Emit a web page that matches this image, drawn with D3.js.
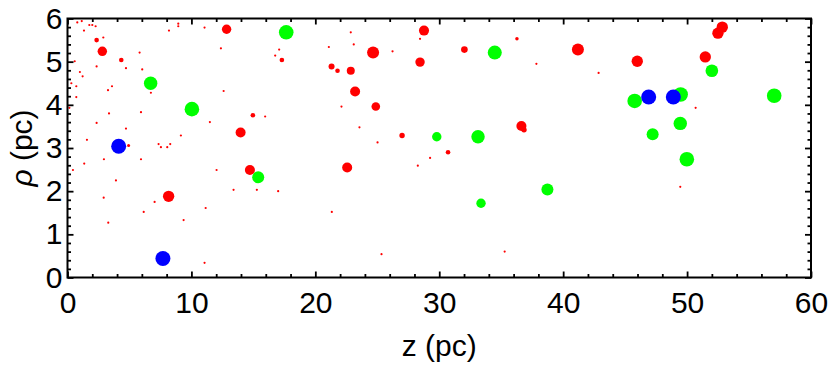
<!DOCTYPE html>
<html>
<head>
<meta charset="utf-8">
<script src="https://cdn.jsdelivr.net/npm/d3@7"></script>
<style>
  body { margin: 0; background: #fff; }
  svg { display: block; }
  .tick text { font-family: "Liberation Sans", Arial, sans-serif; }
</style>
</head>
<body>
<div id="chart"></div>
<script>
// big red points: z (pc), rho (pc), mass (drawn as area)
var redZ    = [12.84, 2.35, 2.81, 4.34, 14.96, 13.97, 4.93, 28.77, 24.66, 32.03, 28.45, 17.30, 21.31, 21.79, 22.86, 23.21, 24.88, 36.63, 36.84, 27.0, 52.84, 52.49, 41.19, 45.98, 51.47, 14.72, 8.16, 22.57, 30.71, 36.27];
var redRho  = [5.75, 5.50, 5.24, 5.04, 3.76, 3.36, 3.06, 5.72, 5.21, 5.28, 4.99, 5.04, 4.89, 4.79, 4.79, 4.31, 3.96, 3.51, 3.42, 3.29, 5.80, 5.66, 5.28, 5.01, 5.11, 2.49, 1.88, 2.55, 2.90, 5.53];
var redMass = [22, 5.3, 22, 5.3, 5.3, 25, 2.3, 25, 36, 11, 22, 5.3, 9, 5.3, 16, 25, 18.5, 25, 7.3, 7.3, 32, 32, 36, 32, 32, 25, 32, 25, 5.3, 3];

// tiny red points
var dustZ   = [0.79, 1.15, 1.76, 2.0, 2.27, 1.33, 2.89, 5.82, 8.19, 8.94, 8.94, 11.06, 12.38, 0.58, 2.35, 4.72, 6.03, 1.0, 1.22, 0.31, 0.71, 3.59, 3.27, 6.73, 12.6, 0.71, 0.15, 3.35, 5.93, 11.49, 15.95, 2.35, 4.72, 1.57, 9.15, 7.35, 7.54, 8.05, 8.29,
               22.86, 28.45, 17.08, 16.76, 21.09, 23.10, 26.23, 37.84, 22.11, 23.56, 25.02, 42.86, 50.69,
               1.35, 2.94, 5.93, 0.44, 3.91, 2.92, 7.03, 6.15, 11.15, 3.29, 9.37, 12.03, 13.40, 15.28, 17.0, 11.06,
               29.26, 28.27, 21.33, 25.34, 35.28, 49.45];
var dustRho = [5.91, 5.94, 5.85, 5.85, 5.82, 5.72, 5.56, 5.21, 5.72, 5.88, 5.82, 5.79, 5.31, 5.01, 4.89, 4.85, 4.82, 4.76, 4.66, 4.50, 4.43, 4.43, 4.34, 4.28, 4.32, 4.18, 3.93, 3.80, 3.83, 3.60, 3.73, 3.58, 3.45, 3.19, 3.29, 3.09, 3.02, 3.02, 3.09,
               5.68, 5.53, 5.28, 5.14, 5.34, 5.40, 5.24, 4.95, 3.96, 3.48, 3.13, 4.74, 3.93,
               2.64, 2.74, 2.74, 2.49, 2.25, 1.85, 1.75, 1.52, 1.61, 1.27, 1.33, 2.49, 2.03, 2.03, 2.0, 0.34,
               2.77, 2.59, 1.52, 0.54, 0.60, 2.10];
var dustMass = 1.2;

// green points
var greenZ    = [6.71, 10.04, 17.65, 34.48, 29.8, 33.13, 52.0, 45.77, 49.48, 57.03, 49.45, 47.22, 15.39, 33.37, 49.98, 38.73];
var greenRho  = [4.50, 3.90, 5.68, 5.21, 3.26, 3.26, 4.79, 4.09, 4.24, 4.21, 3.57, 3.32, 2.32, 1.72, 2.74, 2.04];
var greenMass = [45, 53, 53, 49, 22, 45, 40, 53, 53, 53, 45, 36, 36, 22, 53, 36];

// blue points
var blueZ    = [4.13, 46.9, 48.89, 7.70];
var blueRho  = [3.04, 4.18, 4.18, 0.44];
var blueMass = [56, 56, 56, 56];

var xTicks = [0, 10, 20, 30, 40, 50, 60];
var yTicks = [0, 1, 2, 3, 4, 5, 6];

var margin = { top: 18.5, right: 19, bottom: 89.5, left: 67.5 },
    width = 830 - margin.left - margin.right,
    height = 367 - margin.top - margin.bottom;

var svg = d3.select("#chart")
  .append("svg")
    .attr("width", 830)
    .attr("height", 367)
  .append("g")
    .attr("transform", "translate(" + margin.left + "," + margin.top + ")");

var x = d3.scaleLinear().domain([0, 60]).range([0, width]);
var y = d3.scaleLinear().domain([0, 6]).range([height, 0]);
var r = d3.scaleSqrt().domain([0, 56]).range([0, 7.5]);

function zip(zs, rhos, mass) {
  return zs.map(function(d, i) {
    return { z: d, rho: rhos[i], m: Array.isArray(mass) ? mass[i] : mass };
  });
}

var layers = [
  { data: zip(dustZ, dustRho, dustMass), color: "#ff0000" },
  { data: zip(redZ, redRho, redMass), color: "#ff0000" },
  { data: zip(greenZ, greenRho, greenMass), color: "#00ff00" },
  { data: zip(blueZ, blueRho, blueMass), color: "#0000ff" }
];

layers.forEach(function(layer) {
  svg.append("g")
    .selectAll("circle")
    .data(layer.data)
    .enter()
    .append("circle")
    .attr("cx", function(d) { return x(d.z); })
    .attr("cy", function(d) { return y(d.rho); })
    .attr("r", function(d) { return r(d.m); })
    .attr("fill", layer.color);
});

// minor ticks
var xMinor = d3.range(0, 61, 2).filter(function(v) { return v % 10 !== 0; });
var yMinor = d3.range(0, 31).map(function(v) { return v / 5; }).filter(function(v, i) { return i % 5 !== 0; });

function styleAxis(g) {
  g.select(".domain").remove();
  g.selectAll(".tick line").attr("stroke", "#000").attr("stroke-width", 1.8);
  g.selectAll(".tick text").attr("fill", "#000").style("font-size", "30px");
}

var minorLen = 3.5, majorLen = 6;

svg.append("g").attr("transform", "translate(0," + height + ")")
  .call(d3.axisBottom(x).tickValues(xMinor).tickSize(-minorLen).tickFormat(""))
  .call(styleAxis);
svg.append("g").attr("transform", "translate(0," + height + ")")
  .call(d3.axisBottom(x).tickValues(xTicks).tickSize(-majorLen).tickPadding(14).tickFormat(d3.format("d")))
  .call(styleAxis);
svg.append("g")
  .call(d3.axisTop(x).tickValues(xMinor).tickSize(-minorLen).tickFormat(""))
  .call(styleAxis);
svg.append("g")
  .call(d3.axisTop(x).tickValues(xTicks).tickSize(-majorLen).tickFormat(""))
  .call(styleAxis);

svg.append("g")
  .call(d3.axisLeft(y).tickValues(yMinor).tickSize(-minorLen).tickFormat(""))
  .call(styleAxis);
svg.append("g")
  .call(d3.axisLeft(y).tickValues(yTicks).tickSize(-majorLen).tickPadding(5).tickFormat(d3.format("d")))
  .call(styleAxis);
svg.append("g").attr("transform", "translate(" + width + ",0)")
  .call(d3.axisRight(y).tickValues(yMinor).tickSize(-minorLen).tickFormat(""))
  .call(styleAxis);
svg.append("g").attr("transform", "translate(" + width + ",0)")
  .call(d3.axisRight(y).tickValues(yTicks).tickSize(-majorLen).tickFormat(""))
  .call(styleAxis);

// frame
svg.append("rect")
  .attr("x", 0)
  .attr("y", 0)
  .attr("width", width)
  .attr("height", height)
  .attr("fill", "none")
  .attr("stroke", "#000")
  .attr("stroke-width", 2);

// axis titles
svg.append("text")
  .attr("x", width / 2)
  .attr("y", height + 78)
  .attr("text-anchor", "middle")
  .attr("font-family", "Liberation Sans, Arial, sans-serif")
  .style("font-size", "30px")
  .text("z (pc)");

var yTitle = svg.append("text")
  .attr("transform", "translate(" + (-margin.left + 32) + "," + (height / 2) + ") rotate(-90)")
  .attr("text-anchor", "middle")
  .attr("font-family", "Liberation Sans, Arial, sans-serif")
  .style("font-size", "30px");
yTitle.append("tspan").attr("font-style", "italic").text("ρ");
yTitle.append("tspan").text(" (pc)");
</script>
</body>
</html>
